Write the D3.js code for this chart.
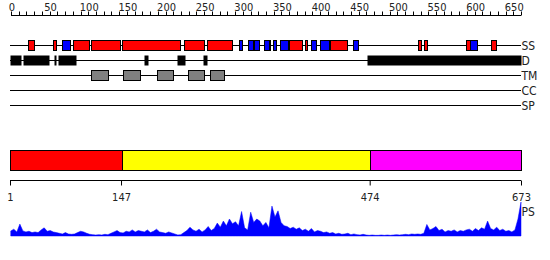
<!DOCTYPE html>
<html>
<head>
<meta charset="utf-8">
<script src="https://cdn.jsdelivr.net/npm/d3@7"></script>
<style>
  body { margin: 0; background: #fff; }
  svg text { font-family: "DejaVu Sans Condensed", "DejaVu Sans", sans-serif; fill: #222; }
</style>
</head>
<body>
<svg id="chart"></svg>
<script>
// sequence length and track data (residue ranges)
const seqLength = 673;
const trackNames = ['SS', 'D', 'TM', 'CC', 'SP'];
const helices = [[25,32],[57,60],[84,104],[108,145],[148,224],[230,255],[261,293],[341,342],
  [369,385],[389,390],[423,444],[539,542],[546,549],[602,606],[635,641]];
const strands = [[70,79],[302,305],[314,320],[323,329],[335,340],[347,350],[356,366],
  [397,403],[409,420],[453,458],[607,615]];
const disorder = [[1,14],[18,51],[59,61],[64,87],[178,182],[221,231],[255,259],[471,673]];
const tmHelices = [[108,130],[150,172],[194,214],[236,256],[265,283]];
const coiledCoil = [];
const signalPeptide = [];
const domainBounds = [1, 147, 474, 673];
const domainColors = ['#ff0000', '#ffff00', '#ff00ff'];
const topTicks = d3.range(0, 651, 50);

// PS profile, one value every 4 residues (0-100)
const psStep = 4;
const psValues = [15,20,12,35,15,12,14,10,12,10,18,24,14,16,12,10,8,6,10,6,
  5,6,10,14,12,8,5,4,3,4,3,5,4,8,12,16,10,9,14,12,
  18,12,16,14,12,18,10,14,20,12,10,8,12,9,6,3,4,10,16,26,
  18,14,20,12,18,28,16,22,38,26,44,30,50,36,42,30,72,24,18,70,
  40,50,44,30,40,24,88,56,74,40,30,28,22,26,20,24,16,20,14,22,
  12,16,14,10,12,8,10,6,8,5,6,8,4,6,4,3,5,3,2,3,
  2,2,3,2,3,2,3,4,3,4,5,4,6,5,6,5,8,34,18,22,
  28,16,20,12,16,14,18,12,16,14,18,20,14,22,16,24,20,44,22,18,
  26,16,20,14,16,12,18,50,100];

const width = 550, height = 260;
const svg = d3.select('#chart').attr('width', width).attr('height', height);

const x = d3.scaleLinear().domain([0, seqLength]).range([10, 521]);
const xTop = d3.scaleLinear().domain([0, 660]).range([11, 521]);

// top ruler
const ruler = svg.append('g').attr('transform', 'translate(0,15.5)');
ruler.append('line').attr('x1', xTop(0)).attr('x2', xTop(660)).attr('stroke', '#000');
ruler.selectAll('line.tick').data(d3.range(0, 661, 10)).enter()
  .append('line').attr('class', 'tick')
  .attr('x1', d => Math.round(xTop(d)) + 0.5).attr('x2', d => Math.round(xTop(d)) + 0.5)
  .attr('y1', -4).attr('y2', 0).attr('stroke', '#000');
ruler.selectAll('text').data(topTicks).enter()
  .append('text')
  .attr('x', d => xTop(d) + 1)
  .attr('y', -5)
  .attr('text-anchor', 'middle')
  .attr('font-size', 11)
  .text(d => d);

// feature tracks
const trackY = d3.scalePoint().domain(trackNames).range([45.5, 105.5]);
const boxH = 10;

trackNames.forEach(name => {
  svg.append('line')
    .attr('x1', x(0)).attr('x2', x(seqLength))
    .attr('y1', trackY(name)).attr('y2', trackY(name))
    .attr('stroke', '#000');
  svg.append('text')
    .attr('x', x(seqLength) + 0.5)
    .attr('y', trackY(name))
    .attr('dy', '0.36em')
    .attr('font-size', 12)
    .text(name);
});

function drawBoxes(data, track, fill) {
  svg.append('g').selectAll('rect').data(data).enter()
    .append('rect')
    .attr('x', d => Math.round(x(d[0] - 1)) + 0.5)
    .attr('width', d => Math.max(1, Math.round(x(d[1]) - x(d[0] - 1))))
    .attr('y', trackY(track) - boxH / 2)
    .attr('height', boxH)
    .attr('fill', fill)
    .attr('stroke', fill === '#000000' ? 'none' : '#000');
}
drawBoxes(helices, 'SS', '#ff0000');
drawBoxes(strands, 'SS', '#0000ff');
drawBoxes(disorder, 'D', '#000000');
drawBoxes(tmHelices, 'TM', '#808080');
drawBoxes(coiledCoil, 'CC', '#ffa500');
drawBoxes(signalPeptide, 'SP', '#00ff00');

// domain bar
const domainSegs = d3.pairs(domainBounds);
svg.append('g').selectAll('rect').data(domainSegs).enter()
  .append('rect')
  .attr('x', (d, i) => Math.round(x(i === 0 ? 0 : d[0])) + 0.5)
  .attr('width', (d, i) => Math.round(x(d[1])) - Math.round(x(i === 0 ? 0 : d[0])))
  .attr('y', 150.5)
  .attr('height', 20)
  .attr('fill', (d, i) => domainColors[i])
  .attr('stroke', '#000');

// domain boundary axis
const xDom = d3.scaleLinear().domain([1, seqLength]).range([10, 521]);
const boundsAxis = d3.axisBottom(xDom).tickValues(domainBounds).tickSize(5).tickFormat(d3.format('d'));
const gAxis = svg.append('g').attr('transform', 'translate(0,180.5)').call(boundsAxis);
gAxis.select('.domain').attr('d', `M${xDom(1)},0H${xDom(seqLength)}`);
gAxis.selectAll('text').attr('font-size', 11).attr('dy', '1.15em')
  .style('font-family', '"DejaVu Sans Condensed", "DejaVu Sans", sans-serif');

// PS profile
const psY = d3.scaleLinear().domain([0, 100]).range([236, 202]);
const psData = psValues.map((v, i) => ({ res: Math.min(seqLength, 1 + i * psStep), v }));
svg.append('path')
  .datum(psData)
  .attr('fill', '#0000ff')
  .attr('stroke', '#0000ff')
  .attr('stroke-width', 0.5)
  .attr('d', d3.area().x(d => x(d.res)).y0(psY(0)).y1(d => psY(d.v)));
svg.append('text')
  .attr('x', x(seqLength) + 0.5)
  .attr('y', 212)
  .attr('dy', '0.36em')
  .attr('font-size', 12)
  .text('PS');
</script>
</body>
</html>
